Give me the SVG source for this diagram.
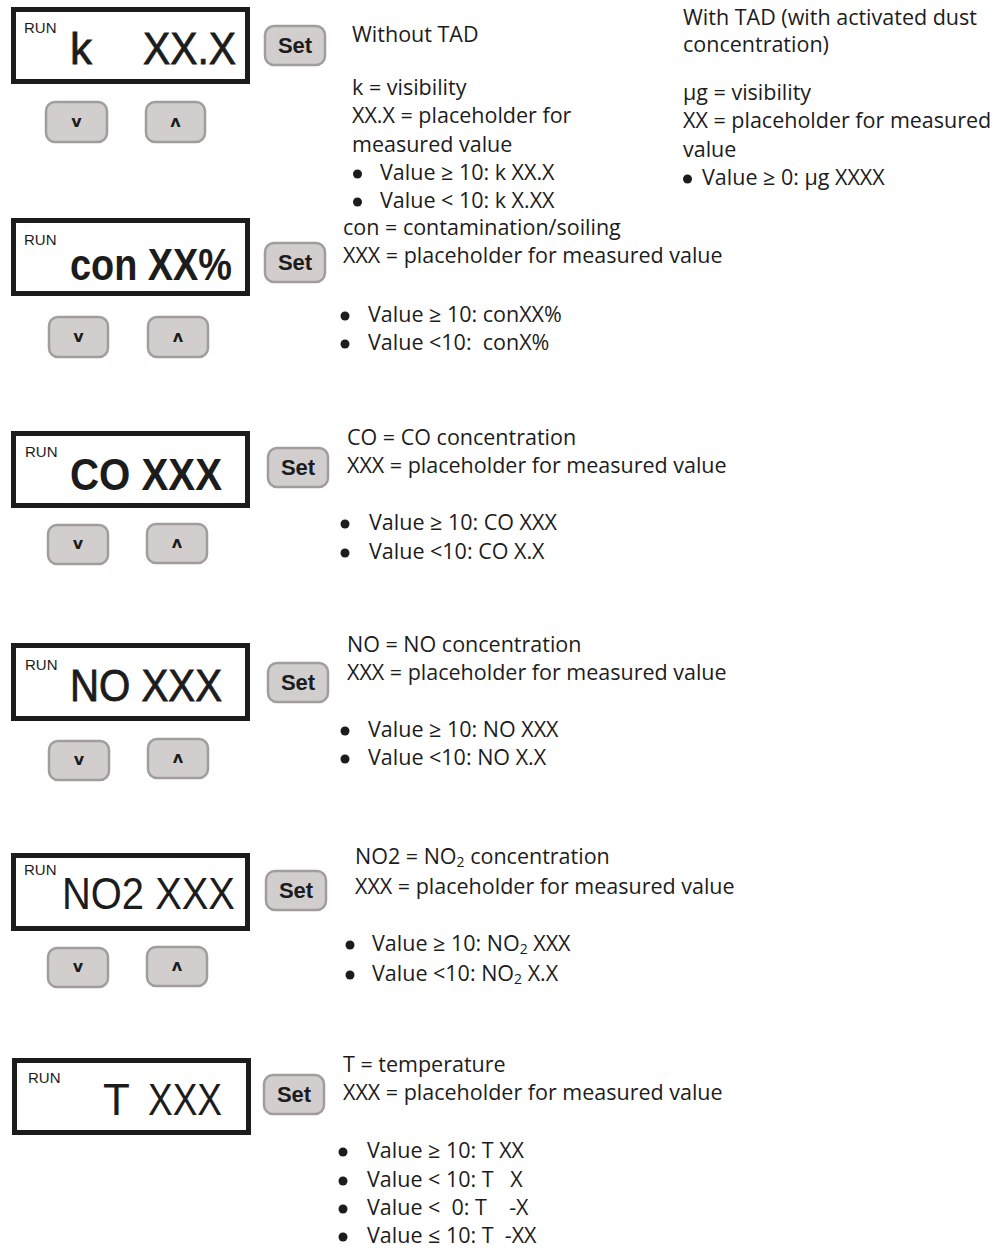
<svg xmlns="http://www.w3.org/2000/svg" width="1006" height="1248" viewBox="0 0 1006 1248">
<style>
.disp{fill:#fff;stroke:#1c1c1c;stroke-width:5}
.run{font-family:"Liberation Sans",Arial,sans-serif;font-size:15px;fill:#1c1c1c}
.big{font-family:"Liberation Sans",Arial,sans-serif;font-size:44px;fill:#1c1c1c}
.med{stroke:#1c1c1c;stroke-width:0.8}
.btn{fill:#d2cece;stroke:#a19d9d;stroke-width:2.5}
.setl{font-family:"Liberation Sans",Arial,sans-serif;font-weight:bold;font-size:22px;fill:#1c1c1c;text-anchor:middle}
.arr{font-family:"DejaVu Sans","Liberation Sans",sans-serif;font-weight:bold;font-size:16px;fill:#1c1c1c;text-anchor:middle}
.t{font-family:"Open Sans","Liberation Sans",sans-serif;font-size:21.5px;fill:#1c1c1c;white-space:pre}
.sub{font-size:14px;baseline-shift:-3px}
.dot{fill:#1c1c1c}
</style>
<defs>
<rect id="sb" width="60" height="39" rx="9" class="btn"/>
</defs>
<g id="connectors"/>

<g id="display-k">
<rect class="disp" x="13.5" y="9.5" width="234" height="72"/>
<text class="run" x="24" y="33">RUN</text>
<text class="big med" x="70" y="64">k</text>
<text class="big med" x="143" y="64" textLength="93" lengthAdjust="spacingAndGlyphs">XX.X</text>
</g>
<g id="set-k"><use href="#sb" x="265" y="26"/><text class="setl" x="295" y="53">Set</text></g>
<g id="down-k"><rect class="btn" x="46" y="102" width="61" height="40" rx="9"/><text class="arr" x="76.5" y="127">v</text></g>
<g id="up-k"><rect class="btn" x="146" y="102" width="59" height="40" rx="9"/><text class="arr" x="175.5" y="127">ʌ</text></g>
<g id="text-k">
<text class="t" x="352" y="42">Without TAD</text>
<text class="t" x="352" y="95">k = visibility</text>
<text class="t" x="352" y="123">XX.X = placeholder for</text>
<text class="t" x="352" y="152">measured value</text>
<circle class="dot" cx="357.5" cy="174" r="4.5"/><text class="t" x="380" y="180">Value ≥ 10: k XX.X</text>
<circle class="dot" cx="357.5" cy="202" r="4.5"/><text class="t" x="380" y="208">Value &lt; 10: k X.XX</text>
</g>
<g id="text-tad">
<text class="t" x="683" y="25">With TAD (with activated dust</text>
<text class="t" x="683" y="52">concentration)</text>
<text class="t" x="683" y="100">µg = visibility</text>
<text class="t" x="683" y="128">XX = placeholder for measured</text>
<text class="t" x="683" y="157">value</text>
<circle class="dot" cx="687.5" cy="179" r="4.5"/><text class="t" x="702" y="185">Value ≥ 0: µg XXXX</text>
</g>

<g id="display-con">
<rect class="disp" x="13.5" y="220.5" width="234" height="73"/>
<text class="run" x="24" y="245">RUN</text>
<text class="big" x="70" y="280" font-weight="bold" font-size="46" textLength="162" lengthAdjust="spacingAndGlyphs">con XX%</text>
</g>
<g id="set-con"><use href="#sb" x="265" y="243"/><text class="setl" x="295" y="270">Set</text></g>
<g id="down-con"><rect class="btn" x="49" y="317" width="59" height="40" rx="9"/><text class="arr" x="78.5" y="342">v</text></g>
<g id="up-con"><rect class="btn" x="148" y="317" width="60" height="40" rx="9"/><text class="arr" x="178" y="342">ʌ</text></g>
<g id="text-con">
<text class="t" x="343" y="235">con = contamination/soiling</text>
<text class="t" x="343" y="263">XXX = placeholder for measured value</text>
<circle class="dot" cx="345" cy="316" r="4.5"/><text class="t" x="368" y="322">Value ≥ 10: conXX%</text>
<circle class="dot" cx="345" cy="344" r="4.5"/><text class="t" x="368" y="350">Value &lt;10:  conX%</text>
</g>

<g id="display-co">
<rect class="disp" x="13.5" y="433.5" width="234" height="72"/>
<text class="run" x="25" y="457">RUN</text>
<text class="big" x="70" y="490" font-weight="bold" font-size="42" textLength="152" lengthAdjust="spacingAndGlyphs">CO XXX</text>
</g>
<g id="set-co"><use href="#sb" x="268" y="448"/><text class="setl" x="298" y="475">Set</text></g>
<g id="down-co"><rect class="btn" x="48" y="525" width="60" height="39" rx="9"/><text class="arr" x="78" y="549">v</text></g>
<g id="up-co"><rect class="btn" x="147" y="524" width="60" height="39" rx="9"/><text class="arr" x="177" y="548">ʌ</text></g>
<g id="text-co">
<text class="t" x="347" y="445">CO = CO concentration</text>
<text class="t" x="347" y="473">XXX = placeholder for measured value</text>
<circle class="dot" cx="345" cy="524" r="4.5"/><text class="t" x="369" y="530">Value ≥ 10: CO XXX</text>
<circle class="dot" cx="345" cy="553" r="4.5"/><text class="t" x="369" y="559">Value &lt;10: CO X.X</text>
</g>

<g id="display-no">
<rect class="disp" x="13.5" y="645.5" width="234" height="73"/>
<text class="run" x="25" y="670">RUN</text>
<text class="big med" x="70" y="701" font-size="42" textLength="152" lengthAdjust="spacingAndGlyphs">NO XXX</text>
</g>
<g id="set-no"><use href="#sb" x="268" y="663"/><text class="setl" x="298" y="690">Set</text></g>
<g id="down-no"><rect class="btn" x="49" y="741" width="60" height="39" rx="9"/><text class="arr" x="79" y="765">v</text></g>
<g id="up-no"><rect class="btn" x="148" y="739" width="60" height="39" rx="9"/><text class="arr" x="178" y="763">ʌ</text></g>
<g id="text-no">
<text class="t" x="347" y="652">NO = NO concentration</text>
<text class="t" x="347" y="680">XXX = placeholder for measured value</text>
<circle class="dot" cx="345" cy="731" r="4.5"/><text class="t" x="368" y="737">Value ≥ 10: NO XXX</text>
<circle class="dot" cx="345" cy="759" r="4.5"/><text class="t" x="368" y="765">Value &lt;10: NO X.X</text>
</g>

<g id="display-no2">
<rect class="disp" x="13.5" y="855.5" width="234" height="73"/>
<text class="run" x="24" y="875">RUN</text>
<text class="big" x="62" y="909" font-size="46" textLength="173" lengthAdjust="spacingAndGlyphs">NO2 XXX</text>
</g>
<g id="set-no2"><use href="#sb" x="266" y="871"/><text class="setl" x="296" y="898">Set</text></g>
<g id="down-no2"><rect class="btn" x="48" y="948" width="60" height="39" rx="9"/><text class="arr" x="78" y="972">v</text></g>
<g id="up-no2"><rect class="btn" x="147" y="947" width="60" height="39" rx="9"/><text class="arr" x="177" y="971">ʌ</text></g>
<g id="text-no2">
<text class="t" x="355" y="864">NO2 = NO<tspan class="sub">2</tspan> concentration</text>
<text class="t" x="355" y="894">XXX = placeholder for measured value</text>
<circle class="dot" cx="350" cy="945" r="4.5"/><text class="t" x="372" y="951">Value ≥ 10: NO<tspan class="sub">2</tspan> XXX</text>
<circle class="dot" cx="350" cy="975" r="4.5"/><text class="t" x="372" y="981">Value &lt;10: NO<tspan class="sub">2</tspan> X.X</text>
</g>

<g id="display-t">
<rect class="disp" x="14.5" y="1060.5" width="234" height="72"/>
<text class="run" x="28" y="1083">RUN</text>
<text class="big" x="103" y="1115" font-size="42">T</text>
<text class="big" x="148" y="1115" font-size="42" textLength="74" lengthAdjust="spacingAndGlyphs">XXX</text>
</g>
<g id="set-t"><use href="#sb" x="264" y="1075"/><text class="setl" x="294" y="1102">Set</text></g>
<g id="text-t">
<text class="t" x="343" y="1072">T = temperature</text>
<text class="t" x="343" y="1100">XXX = placeholder for measured value</text>
<circle class="dot" cx="343" cy="1152" r="4.5"/><text class="t" x="367" y="1158">Value ≥ 10: T XX</text>
<circle class="dot" cx="343" cy="1181" r="4.5"/><text class="t" x="367" y="1187">Value &lt; 10: T   X</text>
<circle class="dot" cx="343" cy="1209" r="4.5"/><text class="t" x="367" y="1215">Value &lt;  0: T    -X</text>
<circle class="dot" cx="343" cy="1237" r="4.5"/><text class="t" x="367" y="1243">Value ≤ 10: T  -XX</text>
</g>
</svg>
